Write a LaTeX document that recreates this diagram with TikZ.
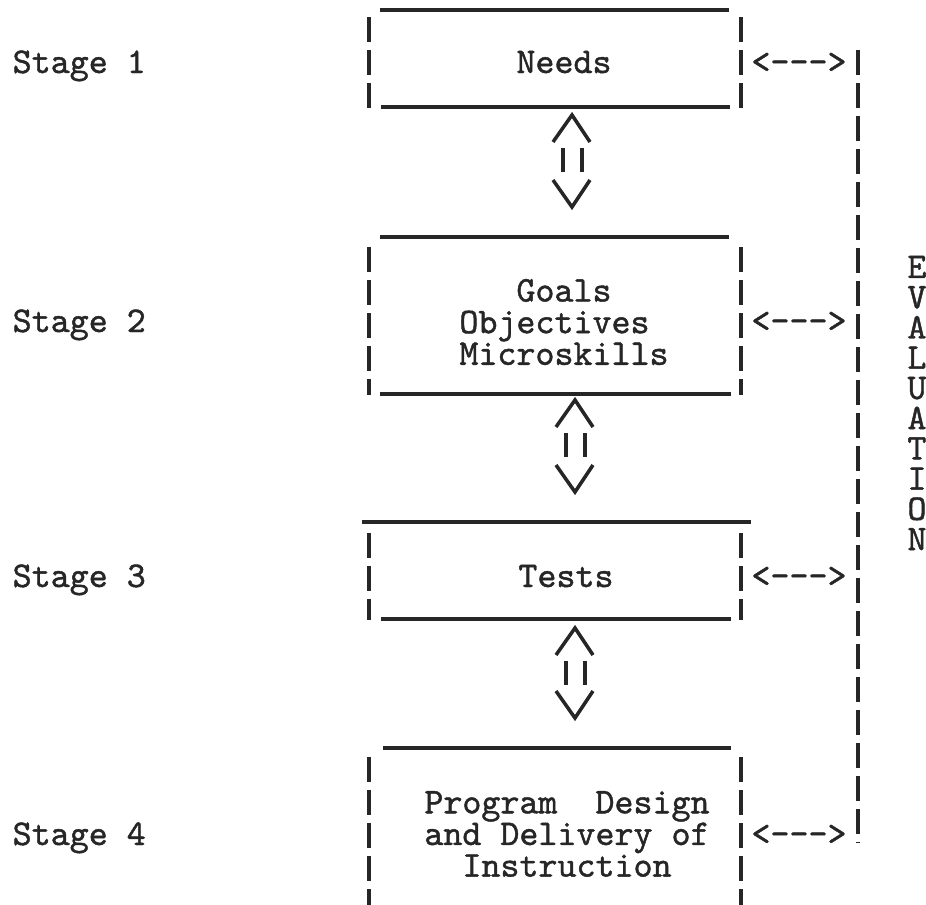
\documentclass[tikz,border=0pt]{standalone}
\usepackage{fontspec}
\newfontfamily\typer[FakeBold=1.2]{lmmono10-regular.otf}
\usepackage{xcolor}
\usetikzlibrary{calc,
	positioning}

\definecolor{ink}{HTML}{262626}
\tikzset{
	tw/.style={ink, line width=1pt},
	bar/.style={tw, dash pattern=on 0.25cm off 0.08cm},
	lbl/.style={font=\typer\fontsize{10.3}{9}\selectfont, text=ink, inner sep=0pt}
}

\begin{document}
\begin{tikzpicture}[x=0.01cm, y=-0.01cm]
	\useasboundingbox (0,0) rectangle (926,905);

	% stages on the left
	\foreach \n/\y in {1/73, 2/332, 3/587, 4/845}
		\node[lbl, anchor=base west] (stage\n) at (12,\y) {Stage \n};

	% box texts
	\node[lbl, anchor=base] (needs) at (564,73) {Needs};
	\node[lbl, align=left] (goals) at (564,322) {\hphantom{MMM}Goals\\Objectives\\Microskills};
	\node[lbl, anchor=base] (tests) at (566,587) {Tests};
	\node[lbl, align=center] (design) at (567,834) {Program\ \ Design\\and Delivery of\\Instruction};

	% box frames, typed with underscores and bars
	\draw[tw] (380,10) -- (729,10);
	\draw[tw] (381,107) -- (730,107);
	\draw[bar] (369,17) -- (369,108);
	\draw[bar] (741,17) -- (741,108);

	\draw[tw] (380,237) -- (729,237);
	\draw[tw] (380,394) -- (731,394);
	\draw[bar] (369,247) -- (369,395);
	\draw[bar] (741,247) -- (741,395);

	\draw[tw] (362,522) -- (751,522);
	\draw[tw] (381,619) -- (731,619);
	\draw[bar] (369,533) -- (369,620);
	\draw[bar] (741,533) -- (741,620);

	\draw[tw] (383,748) -- (731,748);
	\draw[bar] (369,757) -- (369,905);
	\draw[bar] (741,757) -- (741,905);

	% evaluation column
	\draw[bar] (858,50) -- (858,843);
	\node[lbl, align=center, font=\typer\fontsize{10.3}{8.6}\selectfont] (eval) at (917,403)
		{E\\V\\A\\L\\U\\A\\T\\I\\O\\N};
	\foreach \n/\y in {1/73, 2/332, 3/587, 4/845}
		\node[lbl, anchor=base] (link\n) at (799,\y) {<-{}-{}->};

	% double arrows between the stages
	\coordinate (up1) at (572,115); \coordinate (dn1) at (572,207);
	\coordinate (up2) at (575,400); \coordinate (dn2) at (575,492);
	\coordinate (up3) at (575,628); \coordinate (dn3) at (575,718);
	\foreach \i in {1,2,3} {
		\draw[tw] ($(up\i)+(-19,27)$) -- (up\i) -- ($(up\i)+(18,27)$);
		\draw[tw] ($(up\i)+(-9,33)$) -- ($(up\i)+(-9,57)$);
		\draw[tw] ($(up\i)+(10,33)$) -- ($(up\i)+(10,57)$);
		\draw[tw] ($(dn\i)+(-19,-27)$) -- (dn\i) -- ($(dn\i)+(18,-27)$);
	}
\end{tikzpicture}
\end{document}
